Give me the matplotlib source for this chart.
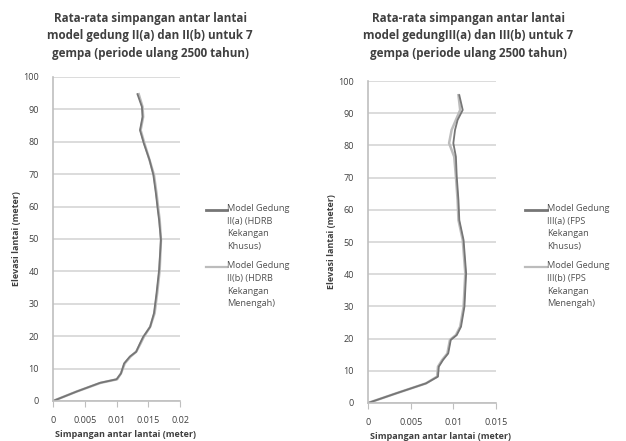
import matplotlib
import matplotlib.pyplot as plt
from matplotlib.lines import Line2D

matplotlib.use('Agg')
plt.rcParams['font.family'] = ['Open Sans', 'DejaVu Sans']

# elevation (m) vs average inter-storey drift (m)
left_elev = [0, 2.9, 5.6, 6.7, 8.5, 11.6, 13.7, 15.2, 17.8, 19.8, 22.9, 27.1, 33.2, 40.4,
             49.7, 55.9, 59, 64.1, 69.8, 74.4, 79.5, 83.6, 87.7, 90.8, 94.7]
left_a = [0, 0.0037, 0.0074, 0.0100, 0.0107, 0.0112, 0.0121, 0.0131, 0.0137, 0.0142, 0.0153,
          0.0159, 0.0163, 0.0167, 0.0170, 0.0167, 0.0165, 0.0162, 0.0158, 0.0152, 0.0143,
          0.0137, 0.0141, 0.0140, 0.0133]
left_b = [0, 0.0037, 0.0075, 0.0101, 0.0107, 0.0113, 0.0122, 0.0131, 0.0138, 0.0143, 0.0153,
          0.0160, 0.0164, 0.0168, 0.0170, 0.0168, 0.0166, 0.0163, 0.0159, 0.0152, 0.0144,
          0.0138, 0.0142, 0.0141, 0.0135]

right_elev = [0, 3, 6.1, 8.2, 11.3, 13.4, 15.4, 19.6, 21.1, 23.7, 29.9, 40.3, 50.6, 56.8,
              63, 70.3, 76.5, 80.7, 84.8, 87.9, 91, 95.6]
right_a = [0, 0.0033, 0.0068, 0.0082, 0.0083, 0.0088, 0.0094, 0.0097, 0.0104, 0.0109,
           0.0113, 0.0115, 0.0112, 0.0107, 0.0106, 0.0104, 0.0103, 0.0100, 0.0102, 0.0105,
           0.0111, 0.0107]
right_b = [0, 0.0033, 0.0068, 0.0081, 0.0082, 0.0087, 0.0093, 0.0096, 0.0103, 0.0108,
           0.0112, 0.0114, 0.0111, 0.0106, 0.0105, 0.0103, 0.0101, 0.0095, 0.0098, 0.0103,
           0.0108, 0.0106]

left_xticks = [0, 0.005, 0.01, 0.015, 0.02]
left_xticklabels = ['0', '0.005', '0.01', '0.015', '0.02']
right_xticks = [0, 0.005, 0.01, 0.015]
right_xticklabels = ['0', '0.005', '0.01', '0.015']
yticks = [0, 10, 20, 30, 40, 50, 60, 70, 80, 90, 100]

left_title = 'Rata-rata simpangan antar lantai\nmodel gedung II(a) dan II(b) untuk 7\ngempa (periode ulang 2500 tahun)'
right_title = 'Rata-rata simpangan antar lantai\nmodel gedungIII(a) dan III(b) untuk 7\ngempa (periode ulang 2500 tahun)'
left_labels = ['Model Gedung\nII(a) (HDRB\nKekangan\nKhusus)',
               'Model Gedung\nII(b) (HDRB\nKekangan\nMenengah)']
right_labels = ['Model Gedung\nIII(a) (FPS\nKekangan\nKhusus)',
                'Model Gedung\nIII(b) (FPS\nKekangan\nMenengah)']

DARK = '#767676'
LIGHT = '#bcbcbc'
TEXT = '#404040'
W, H = 626, 441


def px(x, y):
    return x / W, 1 - y / H


def draw_panel(fig, rect, elev, a, b, xmax, xticks, xticklabels, title, title_x, labels, leg_x):
    ax = fig.add_axes(rect)
    ax.plot(b, elev, color=LIGHT, lw=1.8, solid_joinstyle='round')
    ax.plot(a, elev, color=DARK, lw=1.3, solid_joinstyle='round')
    ax.set_xlim(0, xmax)
    ax.set_ylim(0, 100)
    ax.set_yticks(yticks)
    ax.set_xticks(xticks)
    ax.set_xticklabels(xticklabels)
    ax.grid(axis='y', color='#d9d9d9', lw=1.3)
    ax.set_axisbelow(True)
    for s in ['top', 'right']:
        ax.spines[s].set_visible(False)
    for s in ['left', 'bottom']:
        ax.spines[s].set_color('#bfbfbf')
        ax.spines[s].set_linewidth(1.2)
    ax.tick_params(axis='y', length=0, pad=10, labelsize=6.5, labelcolor=TEXT)
    ax.tick_params(axis='x', length=4, color='#bfbfbf', pad=7, labelsize=6.5, labelcolor=TEXT)
    ax.set_xlabel('Simpangan antar lantai (meter)', fontsize=6.5, fontweight='bold', color=TEXT)
    ax.xaxis.set_label_coords(0.57, -29 / (rect[3] * H))
    ax.set_ylabel('Elevasi lantai (meter)', fontsize=6.5, fontweight='bold', color=TEXT)
    ax.yaxis.set_label_coords(-0.25, 0.5)

    fig.text(*px(title_x, 36), title, ha='center', va='center', fontsize=8.4,
             fontweight='bold', color=TEXT, linespacing=1.45)

    # legend
    for label, color, lw, y0 in [(labels[0], DARK, 2.0, 210), (labels[1], LIGHT, 1.6, 267)]:
        x0, y = px(leg_x[0], y0)
        x1, _ = px(leg_x[1], y0)
        fig.add_artist(Line2D([x0, x1], [y, y], color=color, lw=lw))
        fig.text(x1, y + 5.5 / H, label, ha='left', va='top', fontsize=6.6, color='#505050',
                 linespacing=1.5)
    return ax


fig = plt.figure(figsize=(6.26, 4.41), dpi=100)

draw_panel(fig, [53 / W, 1 - 401 / H, 127 / W, 324 / H], left_elev, left_a, left_b, 0.02,
           left_xticks, left_xticklabels, left_title, 150, left_labels, (206, 227))
draw_panel(fig, [368 / W, 1 - 403 / H, 128 / W, 322 / H], right_elev, right_a, right_b, 0.015,
           right_xticks, right_xticklabels, right_title, 468, right_labels, (525, 547))

plt.savefig('out.png', dpi=100)
